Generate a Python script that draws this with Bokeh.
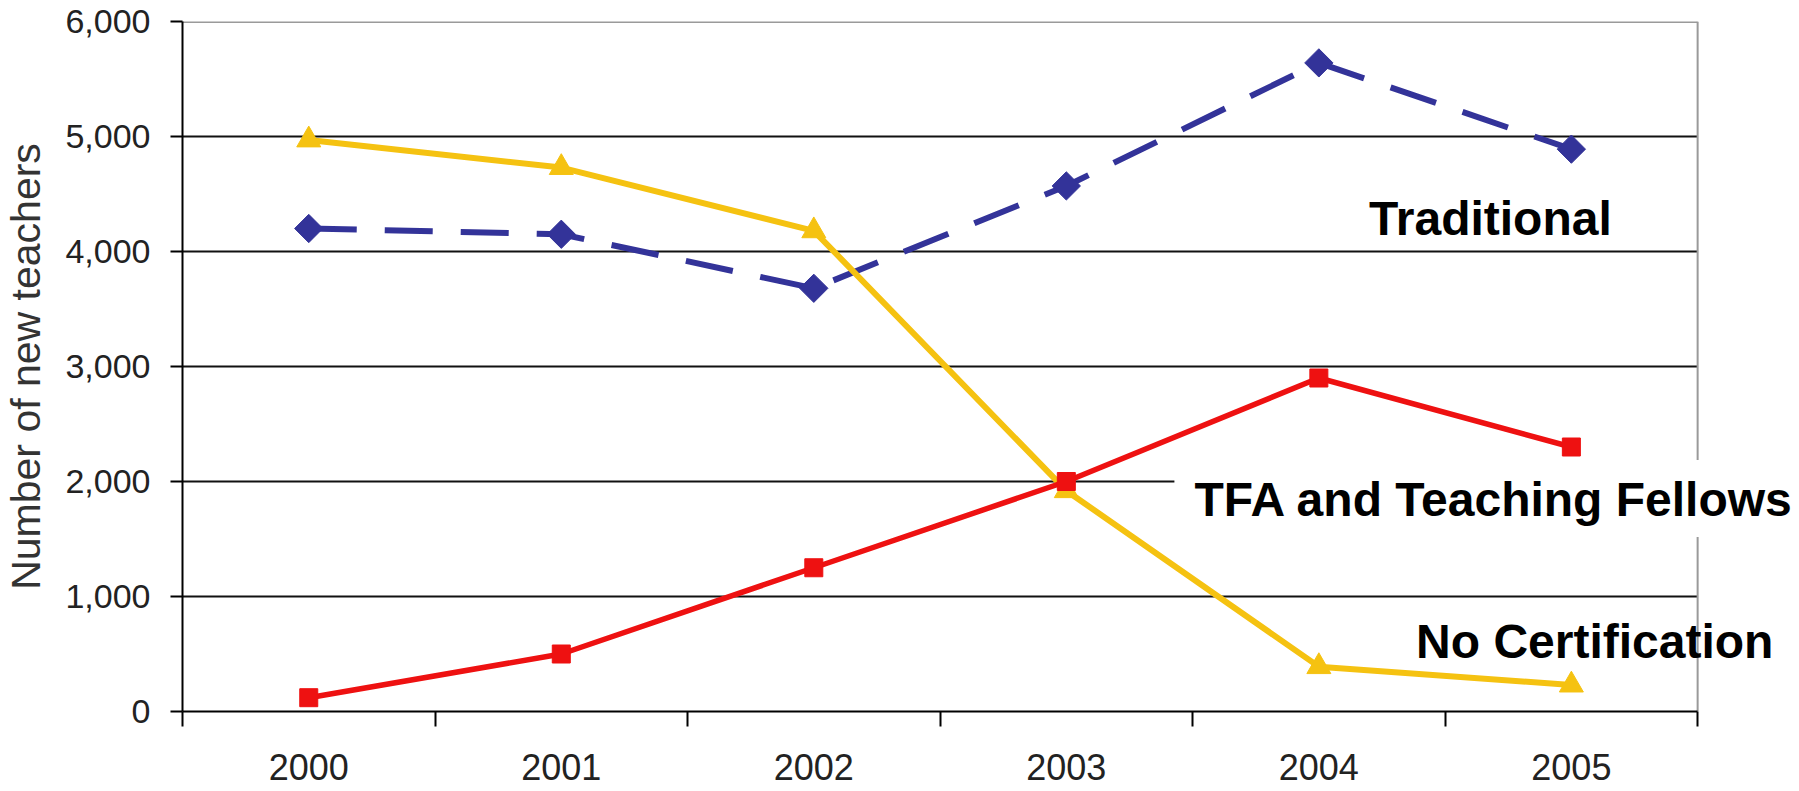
from bokeh.plotting import figure
from bokeh.models import FixedTicker, NumeralTickFormatter, Label, Range1d
from bokeh.embed import file_html
from bokeh.resources import INLINE
import numpy as np

# ---- data ----
years = ["2000", "2001", "2002", "2003", "2004", "2005"]
traditional = [4200, 4150, 3680, 4570, 5640, 4890]
tfa = [120, 500, 1250, 2000, 2900, 2300]
no_cert = [4970, 4730, 4180, 1920, 390, 230]
y_ticks = [0, 1000, 2000, 3000, 4000, 5000, 6000]
y_label = "Number of new teachers"
series_labels = ["Traditional", "TFA and Teaching Fellows", "No Certification"]

FONT = "Liberation Sans"
BLUE = "#333399"
RED = "#EE1111"
YELLOW = "#F5C211"
BORDER = "#9a9a9a"
GRID = "#111111"

x = list(range(len(years)))
x_lo, x_hi = -0.5, len(years) - 0.5

p = figure(width=1799, height=791, output_backend="svg", toolbar_location=None,
           x_range=Range1d(x_lo, x_hi + 0.4034), y_range=Range1d(y_ticks[0], y_ticks[-1]),
           min_border_left=180, min_border_right=0, min_border_top=21, min_border_bottom=80)

p.background_fill_color = "white"
p.border_fill_color = "white"
p.outline_line_color = None
p.xgrid.grid_line_color = None
p.ygrid.grid_line_color = None

# x axis: labels at category centres, ticks at category boundaries
p.xaxis.ticker = FixedTicker(ticks=x, minor_ticks=[i - 0.5 for i in range(len(years) + 1)])
p.xaxis.bounds = (x_lo, x_hi)
p.xaxis.major_label_overrides = {i: yr for i, yr in enumerate(years)}
p.xaxis.major_tick_out = 0
p.xaxis.major_tick_in = 0
p.xaxis.minor_tick_out = 15
p.xaxis.minor_tick_in = 0
p.xaxis.minor_tick_line_color = "black"
p.xaxis.minor_tick_line_width = 2
p.xaxis.axis_line_color = "black"
p.xaxis.axis_line_width = 2
p.xaxis.major_label_standoff = 27
p.xaxis.major_label_text_font = FONT
p.xaxis.major_label_text_font_size = "36px"
p.xaxis.major_label_text_color = "#222222"

# y axis
p.yaxis.ticker = FixedTicker(ticks=y_ticks)
p.yaxis.formatter = NumeralTickFormatter(format="0,0")
p.yaxis.major_tick_out = 12
p.yaxis.major_tick_in = 0
p.yaxis.major_tick_line_color = "black"
p.yaxis.major_tick_line_width = 2
p.yaxis.minor_tick_line_color = None
p.yaxis.axis_line_color = "black"
p.yaxis.axis_line_width = 2
p.yaxis.major_label_standoff = 20
p.yaxis.major_label_text_font = FONT
p.yaxis.major_label_text_font_size = "34px"
p.yaxis.major_label_text_color = "#222222"
p.yaxis.axis_label = y_label
p.yaxis.axis_label_text_font = FONT
p.yaxis.axis_label_text_font_size = "41px"
p.yaxis.axis_label_text_font_style = "normal"
p.yaxis.axis_label_text_color = "#333333"
p.yaxis.axis_label_standoff = 13

# horizontal grid lines (black) and the grey top / right border of the plot area
grid_y = y_ticks[1:-1]
p.segment(x0=[x_lo] * len(grid_y), y0=grid_y, x1=[x_hi] * len(grid_y), y1=grid_y,
          line_color=GRID, line_width=2)
p.segment(x0=[x_lo], y0=[y_ticks[-1]], x1=[x_hi], y1=[y_ticks[-1]],
          line_color=BORDER, line_width=3)
p.segment(x0=[x_hi], y0=[y_ticks[0]], x1=[x_hi], y1=[y_ticks[-1]],
          line_color=BORDER, line_width=2)

# series
p.line(x, traditional, line_color=BLUE, line_width=6, line_dash="48 28")
p.scatter(x, traditional, marker="square", size=20, angle=np.pi / 4,
          fill_color=BLUE, line_color=BLUE)

p.line(x, no_cert, line_color=YELLOW, line_width=6)
p.scatter(x, no_cert, marker="triangle", size=24, fill_color=YELLOW, line_color=YELLOW)

p.line(x, tfa, line_color=RED, line_width=5.5)
p.scatter(x, tfa, marker="square", size=18, fill_color=RED, line_color=RED)

# annotations
common = dict(text_font=FONT, text_font_size="48px", text_font_style="bold",
              text_color="black", text_baseline="alphabetic", text_align="left")
p.add_layout(Label(x=4.199, y=4285, text=series_labels[0], **common))
p.add_layout(Label(x=3.428, y=1853, text=series_labels[1],
                   background_fill_color="white",
                   padding=dict(left=20, right=20, top=13, bottom=11), **common))
p.add_layout(Label(x=4.385, y=612, text=series_labels[2], **common))

open("out.html", "w").write(file_html(p, INLINE))
